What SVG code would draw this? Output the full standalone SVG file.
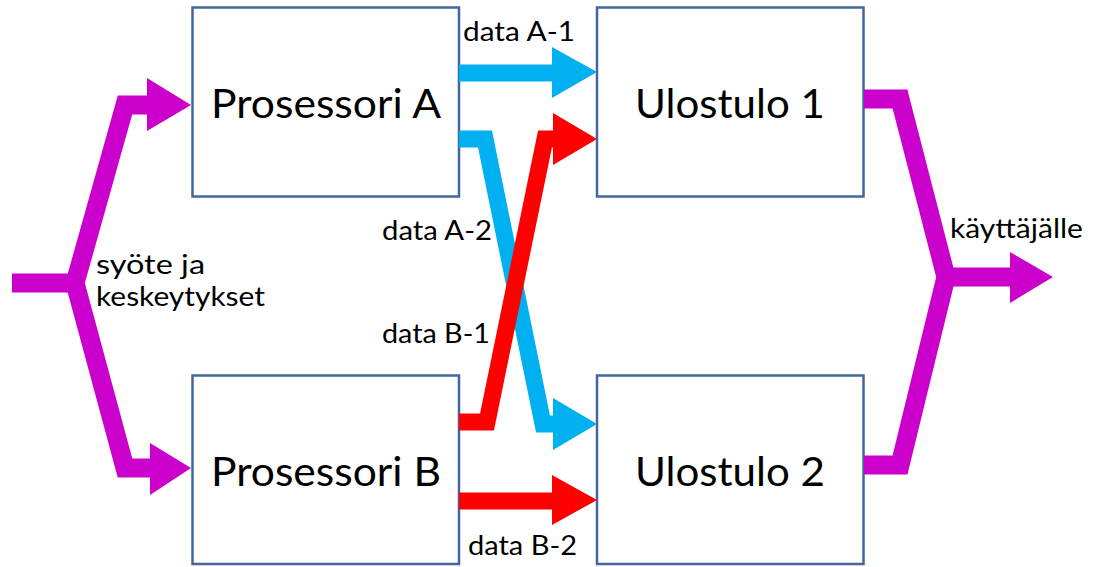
<svg xmlns="http://www.w3.org/2000/svg" width="1094" height="567" viewBox="0 0 1094 567">
<style>
.box{fill:#fff;stroke:#41679E;stroke-width:2.5}
.big{font-family:Lato,"Open Sans",sans-serif;font-size:40px;fill:#000}
.lbl{font-family:Lato,"Open Sans",sans-serif;font-size:26px;fill:#000}
.mag{fill:none;stroke:#CC00CC;stroke-width:19;stroke-linejoin:miter;stroke-miterlimit:10}
.blue{fill:none;stroke:#00B0F0;stroke-width:17;stroke-linejoin:miter}
.red{fill:none;stroke:#FF0000;stroke-width:17;stroke-linejoin:miter}
</style>
<rect width="1094" height="567" fill="#fff"/>
<g id="nodeProsA"><rect class="box" x="192.5" y="7.5" width="266.5" height="189"/><text class="big" x="326" y="118" text-anchor="middle" textLength="230" lengthAdjust="spacingAndGlyphs">Prosessori A</text></g>
<g id="nodeProsB"><rect class="box" x="192.5" y="375.5" width="266.5" height="188.5"/><text class="big" x="326" y="486" text-anchor="middle" textLength="230" lengthAdjust="spacingAndGlyphs">Prosessori B</text></g>
<g id="nodeUlos1"><rect class="box" x="597" y="7.5" width="266.5" height="189"/><text class="big" x="730" y="118" text-anchor="middle" textLength="190" lengthAdjust="spacingAndGlyphs">Ulostulo 1</text></g>
<g id="nodeUlos2"><rect class="box" x="597" y="375.5" width="266.5" height="188.5"/><text class="big" x="730" y="486" text-anchor="middle" textLength="190" lengthAdjust="spacingAndGlyphs">Ulostulo 2</text></g>
<g id="connectors">
<g id="input">
<path class="mag" d="M12 283 H76"/>
<path class="mag" d="M150 105 H125 L75 283 L125 468 H152"/>
<polygon fill="#CC00CC" points="147,78 191,105 147,131"/>
<polygon fill="#CC00CC" points="150,443 191,468 150,495"/>
</g>
<g id="output">
<path class="mag" d="M864 99 H900 L946 277 L900 465 H864"/>
<path class="mag" d="M944 277 H1013"/>
<polygon fill="#CC00CC" points="1010,252 1053,277 1010,303"/>
</g>
<g id="dataA1"><path class="blue" d="M459 73 H555"/><polygon fill="#00B0F0" points="552,47 597,72 552,98"/></g>
<g id="dataA2"><path class="blue" d="M459 139 H485 L543 424 H556"/><polygon fill="#00B0F0" points="553,398 597,424 553,450"/></g>
<g id="dataB1"><path class="red" d="M459 422 H487 L545 139 H556"/><polygon fill="#FF0000" points="553,113 597,139 553,165"/></g>
<g id="dataB2"><path class="red" d="M459 501 H555"/><polygon fill="#FF0000" points="552,475 597,500 552,525"/></g>
</g>
<g id="labels">
<text class="lbl" x="96" y="274" textLength="109" lengthAdjust="spacingAndGlyphs">syöte ja</text>
<text class="lbl" x="96" y="306" textLength="169" lengthAdjust="spacingAndGlyphs">keskeytykset</text>
<text class="lbl" x="463" y="41" textLength="112" lengthAdjust="spacingAndGlyphs">data A-1</text>
<text class="lbl" x="382" y="240" textLength="110" lengthAdjust="spacingAndGlyphs">data A-2</text>
<text class="lbl" x="382" y="343" textLength="108" lengthAdjust="spacingAndGlyphs">data B-1</text>
<text class="lbl" x="468" y="555" textLength="109" lengthAdjust="spacingAndGlyphs">data B-2</text>
<text class="lbl" x="950" y="238" textLength="133" lengthAdjust="spacingAndGlyphs">käyttäjälle</text>
</g>
</svg>
